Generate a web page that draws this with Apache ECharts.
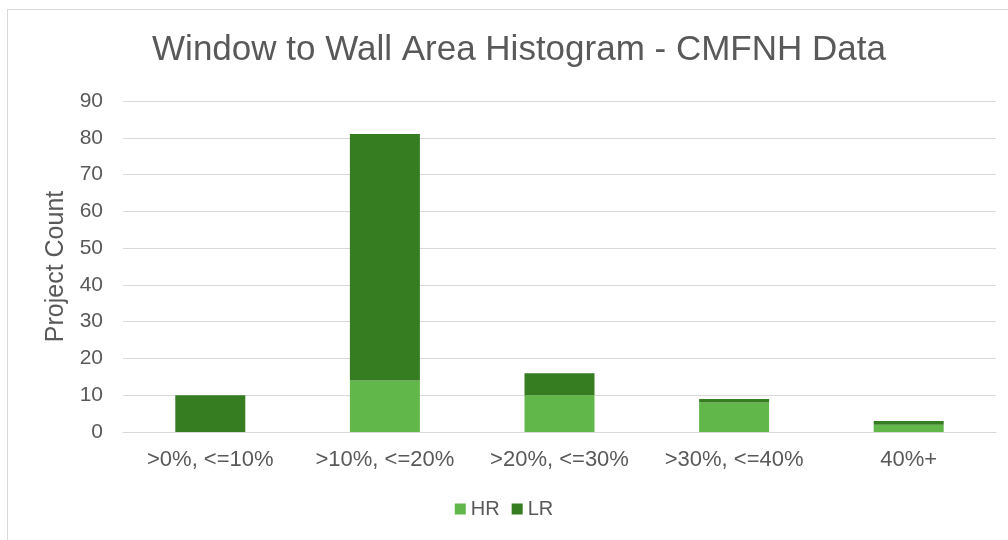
<!DOCTYPE html>
<html>
<head>
<meta charset="utf-8">
<script src="https://cdn.jsdelivr.net/npm/echarts@6/dist/echarts.min.js"></script>
<style>
  html, body { margin: 0; padding: 0; background: #fff; }
  #frame { position: absolute; left: 7px; top: 9px; width: 1010px; height: 540px; border: 1px solid #d9d9d9; box-sizing: border-box; }
  #chart { position: absolute; left: 0; top: 0; width: 1008px; height: 540px; }
</style>
</head>
<body>
<div id="frame"></div>
<div id="chart"></div>
<script>
/* ── Data ─────────────────────────────────────────────────────────── */
const categories = ['>0%, <=10%', '>10%, <=20%', '>20%, <=30%', '>30%, <=40%', '40%+'];
const hrValues = [0, 14, 10, 8, 2];
const lrValues = [10, 67, 6, 1, 1];

const FONT = 'Arial, "Liberation Sans", sans-serif';

const chart = echarts.init(document.getElementById('chart'));

chart.setOption({
    backgroundColor: 'transparent',
    animation: false,
    title: {
        text: 'Window to Wall Area Histogram - CMFNH Data',
        left: 514,
        textAlign: 'center',
        top: 28,
        textStyle: { fontFamily: FONT, fontSize: 35, fontWeight: 'normal', color: '#595959' }
    },
    legend: {
        top: 494,
        left: 'center',
        itemWidth: 11,
        itemHeight: 11,
        itemGap: 12,
        icon: 'rect',
        textStyle: { fontFamily: FONT, fontSize: 20, color: '#595959' },
        data: ['HR', 'LR']
    },
    grid: { left: 123, right: 12, top: 101, bottom: 108 },
    xAxis: {
        type: 'category',
        data: categories,
        axisLine: { lineStyle: { color: '#d9d9d9', width: 1 } },
        axisTick: { show: false },
        axisLabel: { interval: 0, fontFamily: FONT, fontSize: 22, color: '#595959', margin: 17 }
    },
    yAxis: {
        type: 'value',
        min: 0,
        max: 90,
        interval: 10,
        name: 'Project Count',
        nameLocation: 'middle',
        nameGap: 53,
        nameTextStyle: { fontFamily: FONT, fontSize: 25, color: '#595959' },
        axisLine: { show: false },
        axisTick: { show: false },
        axisLabel: { fontFamily: FONT, fontSize: 21, color: '#595959', margin: 20 },
        splitLine: { lineStyle: { color: '#d9d9d9', width: 1 } }
    },
    series: [
        {
            name: 'HR',
            type: 'bar',
            stack: 'total',
            barWidth: 70,
            itemStyle: { color: '#62b74b' },
            data: hrValues
        },
        {
            name: 'LR',
            type: 'bar',
            stack: 'total',
            barWidth: 70,
            itemStyle: { color: '#367c21' },
            data: lrValues
        }
    ]
});
</script>
</body>
</html>
